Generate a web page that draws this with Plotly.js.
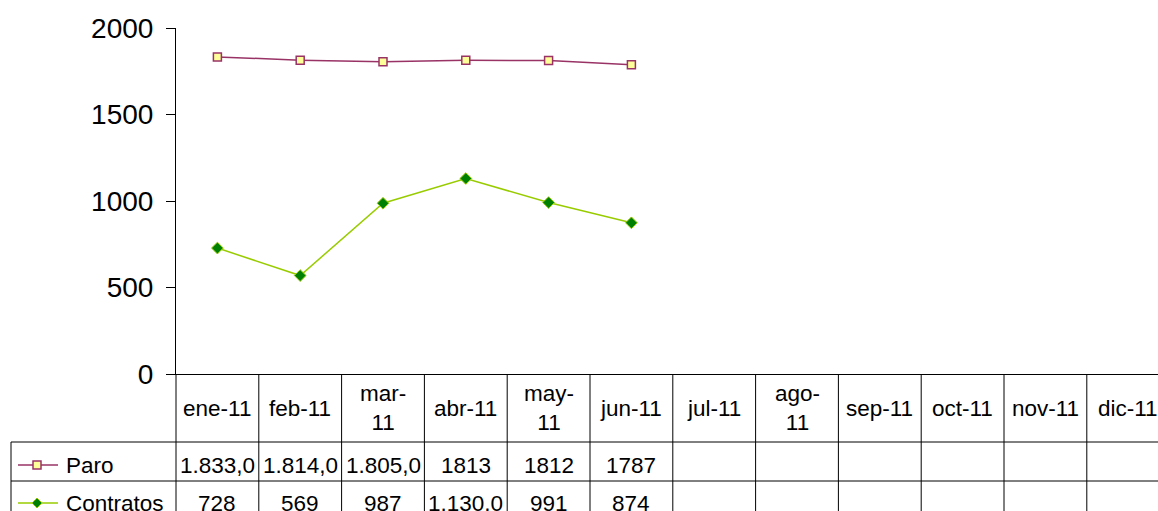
<!DOCTYPE html>
<html>
<head>
<meta charset="utf-8">
<script src="https://cdn.plot.ly/plotly-3.0.1.min.js"></script>
<style>html,body{margin:0;padding:0;background:#fff;}#chart{width:1158px;height:511px;}</style>
</head>
<body>
<div id="chart"></div>
<script>
// ---- data ----
var months = ['ene-11','feb-11','mar-11','abr-11','may-11','jun-11','jul-11','ago-11','sep-11','oct-11','nov-11','dic-11'];
var monthLabels = ['ene-11','feb-11','mar-<br>11','abr-11','may-<br>11','jun-11','jul-11','ago-<br>11','sep-11','oct-11','nov-11','dic-11'];
var seriesNames = ['Paro','Contratos'];
var paro = [1833, 1814, 1805, 1813, 1812, 1787];
var contratos = [728, 569, 987, 1130, 991, 874];
var paroLabels = ['1.833,0','1.814,0','1.805,0','1813','1812','1787'];
var contratosLabels = ['728','569','987','1.130,0','991','874'];
var yTicks = [0, 500, 1000, 1500, 2000];

// ---- layout geometry ----
var W = 1158, H = 511;
var mL = 176, mT = 28, mB = 137, mR = 0;
var plotW = W - mL - mR, plotH = H - mT - mB;
var colW = 82.8;
var r0 = -0.5, r1 = -0.5 + plotW / colW;
function px2x(px){ return (px - mL) / plotW; }
function py2y(py){ return (H - mB - py) / plotH; }
function colEdgePx(k){ return mL + k * colW; }

var colors = {paro: '#993366', paroFill: '#FFFF99', con: '#99CC00', conFill: '#008000'};
var tableFont = {family: 'Liberation Sans, Arial, sans-serif', size: 22.5, color: '#000'};

var rowTop = 374, row2Top = 442, row3Top = 481, tableLeft = 11;

var shapes = [];
// vertical column lines (through header and data rows)
for (var k = 1; k <= 12; k++) {
  var xp = px2x(colEdgePx(k));
  if (xp > 1) continue;
  shapes.push({type:'line', xref:'paper', yref:'paper', x0:xp, x1:xp, y0:py2y(rowTop), y1:py2y(H+5), line:{color:'#000', width:1}});
}
// axis line continuation down through the table
shapes.push({type:'line', xref:'paper', yref:'paper', x0:0, x1:0, y0:py2y(rowTop), y1:py2y(H+5), line:{color:'#000', width:1}});
// left border of legend column
shapes.push({type:'line', xref:'paper', yref:'paper', x0:px2x(tableLeft), x1:px2x(tableLeft), y0:py2y(row2Top), y1:py2y(H+5), line:{color:'#000', width:1}});
// horizontal row lines
[row2Top, row3Top].forEach(function(py){
  shapes.push({type:'line', xref:'paper', yref:'paper', x0:px2x(tableLeft), x1:1, y0:py2y(py), y1:py2y(py), line:{color:'#000', width:1}});
});

// legend keys in table
var keyY = [465, 503];
var keyCols = [colors.paro, colors.con];
keyY.forEach(function(py, i){
  shapes.push({type:'line', xref:'paper', yref:'paper', x0:px2x(18), x1:px2x(58), y0:py2y(py), y1:py2y(py), line:{color:keyCols[i], width:1.5}});
});
shapes.push({type:'rect', xref:'paper', yref:'paper', xsizemode:'pixel', ysizemode:'pixel', xanchor:px2x(37), yanchor:py2y(keyY[0]),
  x0:-4, x1:4, y0:-4, y1:4, fillcolor:colors.paroFill, line:{color:colors.paro, width:1.5}});
shapes.push({type:'path', xref:'paper', yref:'paper', xsizemode:'pixel', ysizemode:'pixel', xanchor:px2x(37), yanchor:py2y(keyY[1]),
  path:'M -5 0 L 0 5 L 5 0 L 0 -5 Z', fillcolor:colors.conFill, line:{color:colors.con, width:1}});

var annotations = [];
// header month labels
monthLabels.forEach(function(lbl, i){
  annotations.push({xref:'x', yref:'paper', x:i, y:py2y(408), text:lbl, showarrow:false, xanchor:'center', yanchor:'middle', font:tableFont, align:'center'});
});
// row labels
seriesNames.forEach(function(n, i){
  annotations.push({xref:'paper', yref:'paper', x:px2x(64), y:py2y(keyY[i]), text:n, showarrow:false, xanchor:'left', yanchor:'middle', font:tableFont});
});
// values
[paroLabels, contratosLabels].forEach(function(arr, r){
  arr.forEach(function(v, i){
    annotations.push({xref:'x', yref:'paper', x:i, y:py2y(keyY[r]), text:v, showarrow:false, xanchor:'center', yanchor:'middle', font:tableFont});
  });
});

var traces = [
  {x: months.slice(0, paro.length), y: paro, name: seriesNames[0], type:'scatter', mode:'lines+markers',
   line:{color:colors.paro, width:1.5}, marker:{symbol:'square', size:8, color:colors.paroFill, line:{color:colors.paro, width:1.5}}},
  {x: months.slice(0, contratos.length), y: contratos, name: seriesNames[1], type:'scatter', mode:'lines+markers',
   line:{color:colors.con, width:1.5}, marker:{symbol:'diamond', size:9, color:colors.conFill, line:{color:colors.con, width:1}}}
];

var layout = {
  width: W, height: H,
  margin: {l: mL, r: mR, t: mT, b: mB},
  paper_bgcolor: '#fff', plot_bgcolor: '#fff',
  showlegend: false,
  font: {family: 'Liberation Sans, Arial, sans-serif', color: '#000'},
  xaxis: {type:'category', categoryorder:'array', categoryarray: months, range:[r0, r1],
    showticklabels:false, ticks:'', showgrid:false, zeroline:false, showline:true, linecolor:'#000', linewidth:1, fixedrange:true},
  yaxis: {range:[0, 2000], tickvals: yTicks, ticktext: yTicks.map(String), ticks:'outside', ticklen:9, tickcolor:'#000', tickwidth:1,
    ticklabelstandoff: 7,
    showgrid:false, zeroline:false, showline:true, linecolor:'#000', linewidth:1,
    tickfont:{family:'Liberation Sans, Arial, sans-serif', size:28, color:'#000'}, fixedrange:true},
  shapes: shapes,
  annotations: annotations
};

Plotly.newPlot('chart', traces, layout, {displayModeBar:false, staticPlot:true});
</script>
</body>
</html>
